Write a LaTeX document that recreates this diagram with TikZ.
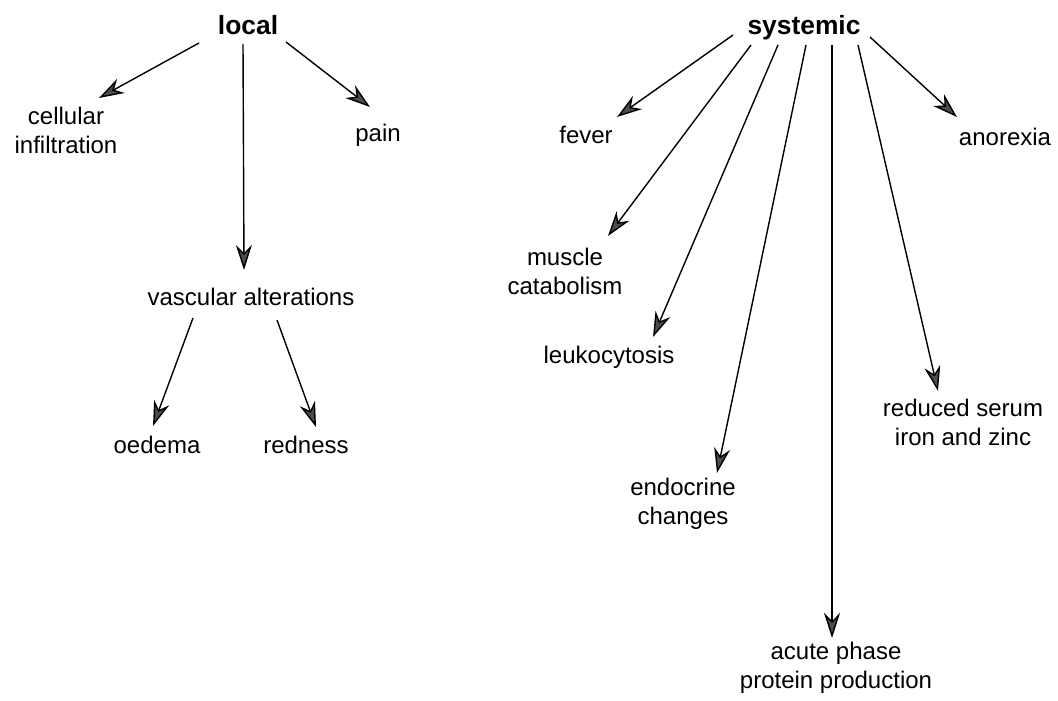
\documentclass[tikz,border=0pt]{standalone}
\usepackage{fontspec}
\setmainfont{Liberation Sans}
\usetikzlibrary{arrows.meta}

\tikzset{
	lbl/.style={font=\fontsize{12}{14.5}\selectfont, align=center, inner sep=0pt},
	head/.style={font=\fontsize{13.2}{16}\selectfont\bfseries, inner sep=0pt, anchor=base},
	arr/.style={-{Stealth[length=12.5pt,width=8pt,inset=4pt,fill=black!70]}, line width=0.7pt}
}

\begin{document}
\begin{tikzpicture}[x=0.5pt,y=-0.5pt]
		\useasboundingbox (0,0) rectangle (1058,700);
		
		% local side
		\node[head] (local) at (248,35) {local};
		\node[lbl] (cellular) at (66,130) {cellular\\infiltration};
		\node[lbl] (pain) at (378,135) {pain};
		\node[lbl] (vascular) at (251,297) {vascular alterations};
		\node[lbl] (oedema) at (157,445) {oedema};
		\node[lbl] (redness) at (306,445) {redness};
		
		% systemic side
		\node[head] (systemic) at (804,35) {systemic};
		\node[lbl] (fever) at (586,135) {fever};
		\node[lbl] (anorexia) at (1005,137) {anorexia};
		\node[lbl] (muscle) at (565,271) {muscle\\catabolism};
		\node[lbl] (leuko) at (609,357) {leukocytosis};
		\node[lbl] (endocrine) at (683,504) {endocrine\\changes};
		\node[lbl] (acute) at (836,668) {acute phase\\protein production};
		\node[lbl] (serum) at (963,422) {reduced serum\\iron and zinc};
		
		\draw[arr] ([shift={(-49,8)}]local.base) -- ([shift={(33,-32)}]cellular.center);
		\draw[arr] ([shift={(-5,9)}]local.base) -- ([shift={(-7,-27)}]vascular.center);
		\draw[arr] ([shift={(38,7)}]local.base) -- ([shift={(-8,-28)}]pain.center);
		\draw[arr] ([shift={(-58,21)}]vascular.center) -- ([shift={(-4,-19)}]oedema.center);
		\draw[arr] ([shift={(26,23)}]vascular.center) -- ([shift={(10,-18)}]redness.center);
		
		\draw[arr] ([shift={(-71,0)}]systemic.base) -- ([shift={(31,-18)}]fever.center);
		\draw[arr] ([shift={(-53,10)}]systemic.base) -- ([shift={(43,-35)}]muscle.center);
		\draw[arr] ([shift={(-26,10)}]systemic.base) -- ([shift={(44,-20)}]leuko.center);
		\draw[arr] ([shift={(2,10)}]systemic.base) -- ([shift={(34,-31)}]endocrine.center);
		\draw[arr] ([shift={(28,10)}]systemic.base) -- ([shift={(-4,-30)}]acute.center);
		\draw[arr] ([shift={(54,10)}]systemic.base) -- ([shift={(-25,-31)}]serum.center);
		\draw[arr] ([shift={(66,2)}]systemic.base) -- ([shift={(-48,-20)}]anorexia.center);
\end{tikzpicture}
\end{document}
